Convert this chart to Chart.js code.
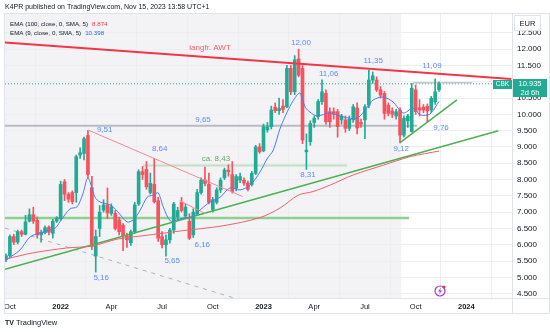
<!DOCTYPE html>
<html>
<head>
<meta charset="utf-8">
<script src="https://cdn.jsdelivr.net/npm/chart.js@4.4.0/dist/chart.umd.min.js"></script>
<style>
  html, body { margin: 0; padding: 0; background: #fff; }
</style>
</head>
<body>
<canvas id="chart" width="550" height="332"></canvas>
<script>
// CBK weekly candles, first bar = week of 27 Sep 2021
const opens  = [5.55,5.66,6.25,6.08,6.40,6.32,6.72,6.92,6.75,6.30,6.37,6.54,6.35,6.72,6.80,7.93,7.55,7.60,7.60,8.75,8.80,9.35,7.75,5.65,6.50,7.06,7.22,6.96,6.96,6.76,6.60,6.27,6.06,6.40,7.25,8.24,8.31,7.60,7.85,7.35,6.25,6.00,6.15,6.45,6.85,7.30,6.88,6.72,6.30,6.95,7.60,7.98,7.85,7.08,7.30,7.68,8.05,8.29,8.15,7.73,7.98,7.98,7.89,7.85,8.19,9.00,8.88,9.52,9.62,10.22,10.11,10.25,10.23,11.41,10.69,11.70,11.41,8.85,9.16,9.75,9.93,10.39,10.64,10.08,10.08,10.08,9.83,9.83,9.57,9.83,10.19,9.75,9.83,10.28,11.05,11.05,10.75,10.64,10.28,10.10,9.95,10.13,9.36,9.80,9.47,10.75,10.20,10.22,10.25,10.13,10.39,10.75];
const highs  = [5.72,6.30,6.32,6.45,6.45,6.90,7.10,7.15,6.85,6.45,6.58,6.58,6.78,6.86,7.95,8.00,7.60,7.65,8.75,8.97,9.30,9.51,8.10,6.45,7.20,7.38,7.74,7.25,7.05,6.85,6.65,6.35,6.45,7.30,8.30,8.40,8.55,8.20,8.64,7.45,6.40,6.30,6.50,7.30,7.15,7.45,7.25,6.95,7.10,7.70,8.05,8.38,8.20,7.45,7.75,8.05,8.35,8.45,8.55,8.15,8.20,8.05,7.95,8.25,9.05,9.10,9.70,9.75,10.25,10.35,10.50,10.45,11.50,11.50,11.80,12.00,11.50,9.40,9.80,9.95,10.45,11.06,10.75,10.20,10.20,10.15,10.00,9.95,9.95,10.30,10.35,9.85,10.30,11.35,11.30,11.15,10.85,10.70,10.35,10.20,10.15,10.20,9.95,10.00,10.95,10.90,10.45,10.30,10.32,10.55,11.09,11.00];
const lows   = [5.48,5.62,6.00,6.02,6.25,6.30,6.70,6.65,6.20,6.08,6.33,6.30,6.20,6.68,6.75,7.35,7.30,7.25,7.30,8.65,8.60,8.05,5.85,5.16,6.25,7.00,6.80,6.90,6.45,6.30,5.82,5.92,5.98,6.35,7.20,8.00,7.70,7.55,7.28,6.10,5.90,5.65,6.05,6.35,6.75,7.00,6.80,6.16,6.22,6.90,7.55,7.80,7.25,7.00,7.25,7.60,8.00,8.10,7.58,7.65,7.90,7.82,7.65,7.80,8.15,8.80,8.85,9.45,9.55,10.05,10.00,10.05,10.20,10.60,10.60,11.15,9.10,8.31,9.05,9.60,9.85,10.30,9.70,9.60,9.85,9.30,9.70,9.45,9.50,9.75,9.40,9.60,9.25,10.20,10.95,10.70,10.50,9.85,9.95,9.90,9.85,9.12,9.30,9.60,9.45,10.00,9.95,10.05,9.76,10.05,10.30,10.70];
const closes = [5.66,6.25,6.08,6.40,6.32,6.70,6.92,6.72,6.30,6.38,6.52,6.38,6.72,6.82,7.85,7.55,7.40,7.32,8.70,8.82,9.25,8.15,5.94,6.25,7.00,7.22,6.97,7.16,6.50,6.40,6.28,6.15,6.40,7.22,8.24,8.15,7.78,7.88,7.32,6.20,6.00,6.15,6.45,7.25,7.05,7.05,7.15,6.20,7.00,7.60,7.98,7.88,7.30,7.38,7.68,7.98,8.29,8.24,7.63,8.09,8.09,7.89,7.70,8.19,9.00,8.85,9.62,9.62,10.13,10.11,10.18,10.15,11.41,10.69,11.67,11.20,9.21,8.90,9.72,9.88,10.39,10.69,9.77,9.77,10.00,9.62,9.95,9.57,9.85,10.23,9.58,9.70,10.23,11.05,11.18,10.75,10.59,10.03,10.03,10.00,10.08,9.36,9.88,9.95,10.80,10.08,10.13,10.13,10.10,10.49,10.69,10.935];

// EMA lines (week index, price)
const emaSlowWeeks  = [0,6.9,15.6,22.1,28.5,36.9,44.6,55.6,65.1,70.3,74.9,78.7,83.1,89.0,96.7,103.6,111];
const emaSlowValues = [5.56,5.75,5.90,5.96,6.17,6.30,6.42,6.58,6.83,7.13,7.52,7.63,7.83,8.14,8.44,8.70,8.874];
const emaFastWeeks  = [0,3.6,6.2,9.5,12.6,13.8,16.4,18.2,19.7,21.0,22.8,24.1,26.7,28.5,31.0,32.6,34.4,36.2,37.7,39.0,40.3,42.1,43.8,45.4,47.9,49.7,52.3,54.9,57.4,60.0,62.6,65.1,66.9,68.5,70.3,72.8,74.6,75.4,76.7,77.9,79.7,83.1,86.4,90.0,92.6,94.1,96.7,99.2,101.8,104.4,106.2,108.7,111];
const emaFastValues = [5.53,5.84,6.24,6.39,6.51,6.70,7.10,7.16,7.56,8.05,7.46,7.31,7.22,7.03,6.70,6.76,7.06,7.46,7.52,7.59,7.16,6.73,6.76,6.82,6.85,7.06,7.31,7.46,7.74,7.68,7.83,8.23,8.63,8.90,9.58,10.25,10.59,10.65,10.22,10.07,9.95,10.04,9.92,9.88,10.22,10.44,10.53,10.38,10.04,10.19,9.98,10.01,10.398];

// axes
const timeTickWeeks  = [1,14,27,40,53,66,79,92,105,118];
const timeTickLabels = ["Oct","2022","Apr","Jul","Oct","2023","Apr","Jul","Oct","2024"];
const priceTicks = [4.5,5,5.5,6,6.5,7,7.5,8,8.5,9,9.5,10,10.5,11,11.5,12,12.5];

// drawings (week index, price)
const awtWeeks = [-0.26,129.5],   awtPrices = [12.20,11.08];
const upLongWeeks = [-0.26,126.2], upLongPrices = [5.245,9.497];
const upShortWeeks = [101.0,115.6], upShortPrices = [9.13,10.44];
const downWeeks = [21.0,60.6],     downPrices = [9.52,7.48];
const downMiniWeeks = [44.5,51.0], downMiniPrices = [7.35,6.96];
const supportWeeks = [-0.26,58.6], supportPrices = [6.51,4.36];
const lvl965Weeks = [-0.26,105.4], lvl965Prices = [9.65,9.65];
const lvl843Weeks = [35.1,87.4],   lvl843Prices = [8.43,8.43];
const lvl682Weeks = [-0.26,103.3], lvl682Prices = [6.82,6.82];
const lvlTopWeeks = [104.4,119.5], lvlTopPrices = [10.97,10.97];
const lastPrice = 10.935;
const shadeEndWeek = 101.3;

const noteTexts  = ["9,51","8,64","12,00","11,06","9,65","ca. 8,43","8,31","6,16","5,65","5,16","11,35","11,09","9,76","9,12"];
const noteWeeks  = [25.3,39.4,75.6,82.7,50.5,53.8,77.4,50.3,42.6,24.4,94.1,109.2,111.5,101.3];
const notePrices = [9.518,8.93,12.19,11.23,9.82,8.63,8.14,6.01,5.51,4.98,11.635,11.48,9.60,8.935];

const FONT = '"Liberation Sans", Arial, sans-serif';
const UP = "#22ab94", DOWN = "#f7525f";

const pts = (ws, ps) => ws.map((w, k) => ({ x: w, y: ps[k] }));
const weeks = opens.map((_, i) => i);
const candleColors = weeks.map((i) => (closes[i] >= opens[i] ? UP : DOWN));

function lineSet(data, color, width, order, dash) {
  return {
    type: "line",
    data,
    borderColor: color,
    borderWidth: width,
    borderDash: dash || [],
    pointRadius: 0,
    fill: false,
    tension: 0,
    order,
  };
}

const tvDecor = {
  id: "tvDecor",
  beforeDraw(chart) {
    const { ctx, chartArea: a, scales } = chart;
    ctx.save();
    ctx.fillStyle = "#ffffff";
    ctx.fillRect(0, 0, chart.width, chart.height);
    ctx.fillStyle = "#f3f3f6";
    const xe = scales.x.getPixelForValue(shadeEndWeek);
    ctx.fillRect(a.left, a.top, xe - a.left, a.bottom - a.top);
    ctx.restore();
  },
  afterDraw(chart) {
    const { ctx, chartArea: a, scales } = chart;
    const x = scales.x, y = scales.y;
    ctx.save();

    // frame
    ctx.strokeStyle = "#e0e3eb";
    ctx.lineWidth = 1;
    ctx.strokeRect(4.5, 13.5, 545, 300);
    ctx.beginPath();
    ctx.moveTo(a.right + 0.5, 13.5);
    ctx.lineTo(a.right + 0.5, 313.5);
    ctx.moveTo(4.5, a.bottom + 0.5);
    ctx.lineTo(549.5, a.bottom + 0.5);
    ctx.stroke();

    // header + legend
    ctx.textBaseline = "middle";
    ctx.textAlign = "left";
    ctx.fillStyle = "#131722";
    ctx.font = "7px " + FONT;
    ctx.fillText("K4PR published on TradingView.com, Nov 15, 2023 13:58 UTC+1", 5, 7);

    ctx.font = "6.2px " + FONT;
    const l1 = "EMA (100, close, 0, SMA, 5)";
    const l2 = "EMA (9, close, 0, SMA, 5)";
    ctx.fillStyle = "#131722";
    ctx.fillText(l1, 10, 24);
    ctx.fillText(l2, 10, 33);
    ctx.fillStyle = "#f23645";
    ctx.fillText("8.874", 10 + ctx.measureText(l1).width + 4, 24);
    ctx.fillStyle = "#2962ff";
    ctx.fillText("10.398", 10 + ctx.measureText(l2).width + 4, 33);

    // notes
    ctx.textAlign = "center";
    ctx.font = "8px " + FONT;
    noteTexts.forEach((t, k) => {
      ctx.fillStyle = t.startsWith("ca.") ? "#6aa86f" : "#5b8def";
      ctx.fillText(t, x.getPixelForValue(noteWeeks[k]), y.getPixelForValue(notePrices[k]));
    });
    ctx.fillStyle = "#f0606c";
    ctx.fillText("langfr. AWT", x.getPixelForValue(52.3), y.getPixelForValue(12.03));

    // last price tags
    const py = Math.round(y.getPixelForValue(lastPrice));
    ctx.fillStyle = UP;
    ctx.fillRect(a.right - 19, py - 4, 19, 9);
    ctx.fillRect(a.right + 1, py - 5, 34, 18);
    ctx.fillStyle = "#ffffff";
    ctx.font = "6.5px " + FONT;
    ctx.fillText("CBK", a.right - 9.5, py + 0.5);
    ctx.font = "7.5px " + FONT;
    ctx.fillText("10.935", a.right + 18, py);
    ctx.fillText("2d 6h", a.right + 18, py + 8.5);

    // currency box
    ctx.fillStyle = "#ffffff";
    ctx.fillRect(514, 15, 27, 16);
    ctx.strokeStyle = "#e0e3eb";
    ctx.strokeRect(514.5, 15.5, 26, 15);
    ctx.fillStyle = "#131722";
    ctx.font = "7.5px " + FONT;
    ctx.fillText("EUR", 527.5, 23.5);

    // events icon
    ctx.strokeStyle = "#a23bc7";
    ctx.lineWidth = 1.2;
    ctx.beginPath();
    ctx.arc(440, 291, 5, 0, Math.PI * 2);
    ctx.stroke();
    ctx.fillStyle = "#a23bc7";
    ctx.beginPath();
    ctx.moveTo(441, 287.5); ctx.lineTo(438, 291.5); ctx.lineTo(440, 291.5);
    ctx.lineTo(439, 294.5); ctx.lineTo(442, 290.5); ctx.lineTo(440, 290.5);
    ctx.closePath();
    ctx.fill();
    ctx.fillStyle = "#f23645";
    ctx.beginPath();
    ctx.arc(444, 287, 1.6, 0, Math.PI * 2);
    ctx.fill();

    // footer
    ctx.textAlign = "left";
    ctx.fillStyle = "#131722";
    ctx.font = "bold 7px " + FONT;
    ctx.fillText("TV", 5, 323);
    ctx.font = "7.5px " + FONT;
    ctx.fillText("TradingView", 16, 323);
    ctx.restore();
  },
};

new Chart(document.getElementById("chart"), {
  type: "bar",
  data: {
    datasets: [
      lineSet(pts([-0.26, 129.7], [lastPrice, lastPrice]), UP, 1, 12, [1, 2]),
      lineSet(pts(lvl682Weeks, lvl682Prices), "#8fcf92", 2.5, 8),
      lineSet(pts(lvl965Weeks, lvl965Prices), "#b8bbc4", 2, 8),
      lineSet(pts(lvl843Weeks, lvl843Prices), "#c2e0c3", 2, 8),
      lineSet(pts(lvlTopWeeks, lvlTopPrices), "#c4c6cd", 1.5, 8),
      lineSet(pts(supportWeeks, supportPrices), "#b0b2ba", 1, 8, [4, 5]),
      {
        type: "bar",
        data: weeks.map((i) => ({ x: i, y: [lows[i], highs[i]] })),
        backgroundColor: candleColors,
        barThickness: 1,
        grouped: false,
        order: 7,
      },
      {
        type: "bar",
        data: weeks.map((i) => ({ x: i, y: [opens[i], closes[i]] })),
        backgroundColor: candleColors,
        barThickness: 3,
        minBarLength: 1,
        grouped: false,
        order: 6,
      },
      lineSet(pts(downWeeks, downPrices), "#f48a93", 1, 4),
      lineSet(pts(downMiniWeeks, downMiniPrices), "#f48a93", 1, 4),
      lineSet(pts(upLongWeeks, upLongPrices), "#4caf50", 1.5, 4),
      lineSet(pts(upShortWeeks, upShortPrices), "#4caf50", 1.5, 4),
      lineSet(pts(awtWeeks, awtPrices), "#f23645", 2, 3),
      Object.assign(lineSet(pts(emaSlowWeeks, emaSlowValues), "#f0616d", 1, 2), { tension: 0.3 }),
      Object.assign(lineSet(pts(emaFastWeeks, emaFastValues), "#4a7ef0", 1, 1), { tension: 0.3 }),
    ],
  },
  options: {
    responsive: false,
    animation: false,
    devicePixelRatio: 1,
    events: [],
    layout: { padding: { left: 5, top: 14, right: 0, bottom: 0 } },
    plugins: { legend: { display: false }, tooltip: { enabled: false } },
    scales: {
      x: {
        type: "linear",
        min: -0.26,
        max: 129.7,
        offset: false,
        afterBuildTicks: (s) => { s.ticks = timeTickWeeks.map((v) => ({ value: v })); },
        afterFit: (s) => { s.height = 34; },
        grid: { color: "#eceef2", drawTicks: false },
        border: { display: false },
        ticks: {
          padding: 4,
          maxRotation: 0,
          autoSkip: false,
          color: "#131722",
          font: (c) => ({ family: FONT, size: 7.5, weight: /^\d{4}$/.test(timeTickLabels[c.index]) ? "bold" : "normal" }),
          callback: (v, k) => timeTickLabels[k],
        },
      },
      y: {
        type: "linear",
        position: "right",
        min: 4.365,
        max: 13.077,
        afterBuildTicks: (s) => { s.ticks = priceTicks.map((v) => ({ value: v })); },
        afterFit: (s) => { s.width = 38; },
        grid: { color: "#eceef2", drawTicks: false },
        border: { display: false },
        ticks: {
          padding: 5,
          color: "#131722",
          font: { family: FONT, size: 8 },
          callback: (v) => Number(v).toFixed(3),
        },
      },
    },
  },
  plugins: [tvDecor],
});
</script>
</body>
</html>
